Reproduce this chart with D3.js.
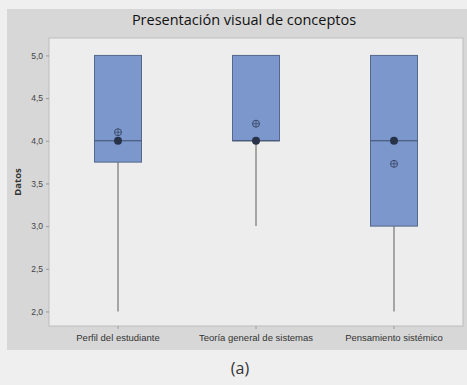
<!DOCTYPE html>
<html>
<head>
<meta charset="utf-8">
<script src="https://cdn.jsdelivr.net/npm/d3@7"></script>
<style>
  html, body { margin: 0; padding: 0; background: #efefef; }
  svg { display: block; font-family: "Open Sans", "Noto Sans", sans-serif; }
</style>
</head>
<body>
<svg id="chart" width="467" height="385"></svg>
<script>
// Boxplot summaries per concept
const categories = ["Perfil del estudiante", "Teoría general de sistemas", "Pensamiento sistémico"];
const whiskerLow = [2.0, 3.0, 2.0];
const q1 = [3.75, 4.0, 3.0];
const medians = [4.0, 4.0, 4.0];
const q3 = [5.0, 5.0, 5.0];
const whiskerHigh = [5.0, 5.0, 5.0];
const means = [4.1, 4.2, 3.73];
const yTicks = [2.0, 2.5, 3.0, 3.5, 4.0, 4.5, 5.0];

const svg = d3.select("#chart");
const W = 467, H = 385;

// Outer gray panel
svg.append("rect").attr("x", 7).attr("y", 9).attr("width", W - 7).attr("height", 341)
  .attr("fill", "#d7d7d7");

const plot = { left: 49, top: 38, right: 463, bottom: 326 };

svg.append("rect").attr("x", plot.left).attr("y", plot.top)
  .attr("width", plot.right - plot.left).attr("height", plot.bottom - plot.top)
  .attr("fill", "#ededed").attr("stroke", "#bdbdbd").attr("stroke-width", 1);

const x = d3.scaleBand().domain(categories).range([plot.left, plot.right]).padding(0);
const y = d3.scaleLinear().domain([1.8296, 5.2042]).range([plot.bottom, plot.top]);

const fmt = v => d3.format(".1f")(v).replace(".", ",");

// Y axis
const yAxis = svg.append("g").attr("transform", `translate(${plot.left},0)`)
  .call(d3.axisLeft(y).tickValues(yTicks).tickFormat(fmt).tickSize(3).tickPadding(3));
yAxis.select(".domain").remove();
yAxis.selectAll("line").attr("stroke", "#9a9a9a");
yAxis.selectAll("text").attr("fill", "#444").attr("font-size", 8.5);

// X axis
const xAxis = svg.append("g").attr("transform", `translate(0,${plot.bottom})`)
  .call(d3.axisBottom(x).tickSize(3).tickPadding(5));
xAxis.select(".domain").remove();
xAxis.selectAll("line").attr("stroke", "#9a9a9a");
xAxis.selectAll("text").attr("fill", "#333").attr("font-size", 9.5);

// Titles
svg.append("text").attr("x", 244).attr("y", 25).attr("text-anchor", "middle")
  .attr("font-size", 14.5).attr("fill", "#111").text("Presentación visual de conceptos");
svg.append("text").attr("transform", "translate(21,182) rotate(-90)").attr("text-anchor", "middle")
  .attr("font-size", 9.5).attr("font-weight", "bold").attr("fill", "#333").text("Datos");
svg.append("text").attr("x", 240).attr("y", 374).attr("text-anchor", "middle")
  .attr("font-size", 16).attr("fill", "#333").text("(a)");

const boxW = 47;
const data = categories.map((c, i) => ({
  c, lo: whiskerLow[i], q1: q1[i], med: medians[i], q3: q3[i], hi: whiskerHigh[i], mean: means[i]
}));

const g = svg.append("g");
const cx = d => x(d.c) + x.bandwidth() / 2;

// Whiskers
g.selectAll(".wl").data(data).join("line")
  .attr("x1", cx).attr("x2", cx)
  .attr("y1", d => y(d.lo)).attr("y2", d => y(d.q1))
  .attr("stroke", "#8c8c8c").attr("stroke-width", 1.5);
g.selectAll(".wh").data(data).join("line")
  .attr("x1", cx).attr("x2", cx)
  .attr("y1", d => y(d.hi)).attr("y2", d => y(d.q3))
  .attr("stroke", "#8c8c8c").attr("stroke-width", 1.5);

// Boxes
g.selectAll(".box").data(data).join("rect")
  .attr("x", d => cx(d) - boxW / 2).attr("width", boxW)
  .attr("y", d => y(d.q3)).attr("height", d => y(d.q1) - y(d.q3))
  .attr("fill", "#7b97cb").attr("stroke", "#56688c").attr("stroke-width", 1);

// Median lines
g.selectAll(".med").data(data).join("line")
  .attr("x1", d => cx(d) - boxW / 2).attr("x2", d => cx(d) + boxW / 2)
  .attr("y1", d => y(d.med)).attr("y2", d => y(d.med))
  .attr("stroke", "#3f4f6e").attr("stroke-width", 1);

// Mean symbols (circle with cross)
const meanG = g.selectAll(".mean").data(data).join("g")
  .attr("transform", d => `translate(${cx(d)},${y(d.mean)})`);
meanG.append("circle").attr("r", 3.5).attr("fill", "none").attr("stroke", "#3b4a6a").attr("stroke-width", 1);
meanG.append("line").attr("x1", -3.5).attr("x2", 3.5).attr("stroke", "#3b4a6a").attr("stroke-width", 0.8);
meanG.append("line").attr("y1", -3.5).attr("y2", 3.5).attr("stroke", "#3b4a6a").attr("stroke-width", 0.8);

// Median dots
g.selectAll(".mdot").data(data).join("circle")
  .attr("cx", cx).attr("cy", d => y(d.med)).attr("r", 4)
  .attr("fill", "#283349");
</script>
</body>
</html>
